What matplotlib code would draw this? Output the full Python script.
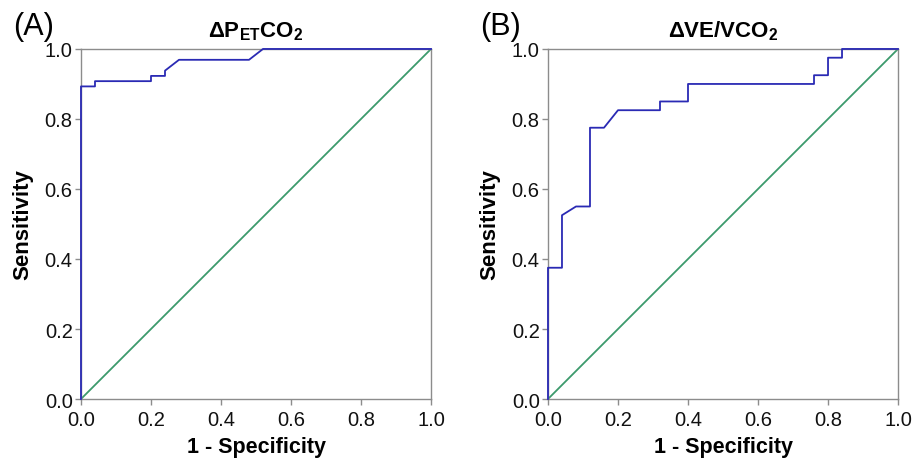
import matplotlib.pyplot as plt

plt.rcParams['font.family'] = ['Liberation Sans', 'DejaVu Sans']
plt.rcParams['mathtext.fontset'] = 'custom'
plt.rcParams['mathtext.rm'] = 'Liberation Sans'
plt.rcParams['mathtext.bf'] = 'Liberation Sans:bold'

# ROC curve vertices (1 - specificity, sensitivity)
petco2_fpr = [0.0, 0.0, 0.04, 0.04, 0.20, 0.20, 0.24, 0.24, 0.28, 0.48, 0.52, 1.0]
petco2_tpr = [0.0, 0.893, 0.893, 0.908, 0.908, 0.923, 0.923, 0.938, 0.969, 0.969, 1.0, 1.0]

vevco2_fpr = [0.0, 0.0, 0.04, 0.04, 0.08, 0.12, 0.12, 0.16, 0.20, 0.32, 0.32,
              0.40, 0.40, 0.76, 0.76, 0.80, 0.80, 0.84, 0.84, 1.0]
vevco2_tpr = [0.0, 0.375, 0.375, 0.525, 0.55, 0.55, 0.775, 0.775, 0.825, 0.825, 0.85,
              0.85, 0.90, 0.90, 0.925, 0.925, 0.975, 0.975, 1.0, 1.0]

titles = [r'$\mathbf{\Delta P_{ET}CO_2}$', r'$\mathbf{\Delta VE/VCO_2}$']
panels = ['(A)', '(B)']
ticks = [0.0, 0.2, 0.4, 0.6, 0.8, 1.0]

curve_color = '#2a2ab4'
ref_color = '#3c9a6c'
frame_color = '#8c8c8c'

fig = plt.figure(figsize=(9.13, 4.6), dpi=100)
ax_a = fig.add_axes([0.0887, 0.1304, 0.3834, 0.761])
ax_b = fig.add_axes([0.6002, 0.1304, 0.3834, 0.761])

curves = [(petco2_fpr, petco2_tpr), (vevco2_fpr, vevco2_tpr)]
for ax, (fpr, tpr), title, panel in zip([ax_a, ax_b], curves, titles, panels):
    ax.plot([0, 1], [0, 1], color=ref_color, lw=1.3, zorder=2)
    ax.plot(fpr, tpr, color=curve_color, lw=1.3, zorder=3, clip_on=False)
    ax.set_xlim(0, 1)
    ax.set_ylim(0, 1)
    ax.set_xticks(ticks)
    ax.set_yticks(ticks)
    ax.set_xticklabels(['%.1f' % t for t in ticks])
    ax.set_yticklabels(['%.1f' % t for t in ticks])
    ax.tick_params(direction='out', length=4, width=1, color=frame_color,
                   labelsize=14.5, labelcolor='#111111')
    ax.tick_params(axis='x', pad=4)
    ax.tick_params(axis='y', pad=2)
    for side in ax.spines.values():
        side.set_color(frame_color)
        side.set_linewidth(1)
    ax.set_xlabel('1 - Specificity', fontsize=15.5, fontweight='bold', labelpad=5)
    ax.set_ylabel('Sensitivity', fontsize=16, fontweight='bold', labelpad=8)
    ax.set_title(title, fontsize=16, pad=9)
    ax.text(-0.195, 1.066, panel, transform=ax.transAxes, fontsize=22,
            ha='left', va='center')

fig.savefig('out.png', dpi=100)
